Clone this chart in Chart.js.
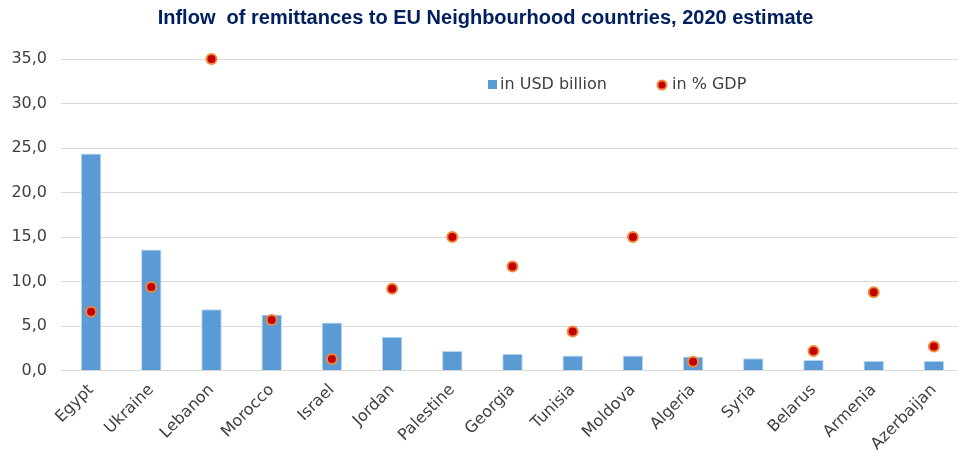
<!DOCTYPE html>
<html>
<head>
<meta charset="utf-8">
<script src="https://cdn.jsdelivr.net/npm/chart.js@4"></script>
<style>
  body { margin: 0; background: #fff; }
  #frame { width: 958px; height: 456px; overflow: hidden; }
  /* the original plot runs slightly past the right edge of the picture */
  #wrap { width: 971px; height: 456px; position: relative; }
</style>
</head>
<body>
<div id="frame"><div id="wrap"><canvas id="remitChart"></canvas></div></div>
<script>
const countries = ['Egypt', 'Ukraine', 'Lebanon', 'Morocco', 'Israel', 'Jordan', 'Palestine', 'Georgia',
    'Tunisia', 'Moldova', 'Algeria', 'Syria', 'Belarus', 'Armenia', 'Azerbaijan'];
const usdBillion = [24.4, 13.6, 6.9, 6.3, 5.4, 3.8, 2.2, 1.9, 1.7, 1.7, 1.6, 1.4, 1.2, 1.1, 1.1];
const pctGdp = [6.6, 9.4, 35.0, 5.7, 1.3, 9.2, 15.0, 11.7, 4.4, 15.0, 1.0, null, 2.2, 8.8, 2.7];
const yTicks = [0, 5, 10, 15, 20, 25, 30, 35];

const labelFont = {family: 'DejaVu Sans', size: 16};

// legend sits inside the plot, like in the original
const insideLegend = {
    id: 'insideLegend',
    afterDraw(chart) {
        const c = chart.ctx;
        c.save();
        c.font = '16px "DejaVu Sans"';
        c.textBaseline = 'middle';
        c.fillStyle = '#5B9BD5';
        c.fillRect(488, 80, 9, 9);
        c.fillStyle = '#404040';
        c.fillText('in USD billion', 500, 85);
        c.beginPath();
        c.arc(662, 85, 4.5, 0, Math.PI * 2);
        c.fillStyle = '#C00000';
        c.fill();
        c.lineWidth = 2;
        c.strokeStyle = '#F0883A';
        c.stroke();
        c.fillStyle = '#404040';
        c.fillText('in % GDP', 672, 85);
        c.restore();
    }
};

const ctx = document.getElementById('remitChart').getContext('2d');
const remitChart = new Chart(ctx, {
    data: {
        labels: countries,
        datasets: [{
            type: 'line',
            label: 'in % GDP',
            data: pctGdp,
            showLine: false,
            pointRadius: 5,
            pointBorderWidth: 2,
            pointBackgroundColor: '#C00000',
            pointBorderColor: '#F0883A',
            clip: false,
            order: 0
        }, {
            type: 'bar',
            label: 'in USD billion',
            data: usdBillion,
            backgroundColor: '#5B9BD5',
            borderColor: '#BDD7EE',
            borderWidth: 1,
            barPercentage: 0.34,
            categoryPercentage: 1,
            order: 1
        }]
    },
    options: {
        responsive: true,
        maintainAspectRatio: false,
        animation: false,
        layout: {padding: 0},
        plugins: {
            legend: {display: false},
            tooltip: {enabled: false},
            title: {
                display: true,
                text: 'Inflow  of remittances to EU Neighbourhood countries, 2020 estimate',
                color: '#002060',
                font: {family: 'Liberation Sans', size: 20, weight: 'bold'},
                padding: {top: 6, bottom: 29}
            }
        },
        scales: {
            x: {
                grid: {display: false},
                border: {color: '#D9D9D9'},
                afterFit(scale) {
                    // rotated labels may hang past the plot edges
                    scale.paddingLeft = 0;
                    scale.paddingRight = 0;
                },
                ticks: {
                    color: '#404040',
                    font: labelFont,
                    maxRotation: 45,
                    minRotation: 45,
                    padding: 2
                }
            },
            y: {
                min: 0,
                max: 35,
                afterBuildTicks(axis) {
                    axis.ticks = yTicks.map(v => ({value: v}));
                },
                afterFit(axis) {
                    axis.width = 61;
                },
                grid: {color: '#D9D9D9', drawTicks: false},
                border: {display: false},
                ticks: {
                    color: '#404040',
                    font: labelFont,
                    padding: 14,
                    callback: function (value) {
                        return value.toFixed(1).replace('.', ',');
                    }
                }
            }
        }
    },
    plugins: [insideLegend]
});
</script>
</body>
</html>
